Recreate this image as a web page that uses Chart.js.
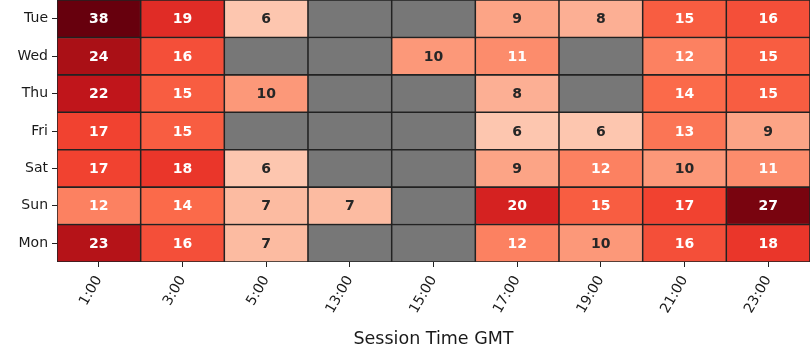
<!DOCTYPE html>
<html>
<head>
<meta charset="utf-8">
<script src="https://cdn.jsdelivr.net/npm/chart.js@4.4.0/dist/chart.umd.min.js"></script>
<style>
  html, body { margin: 0; padding: 0; background: #fff; }
</style>
</head>
<body>
<canvas id="chart" width="810" height="360"></canvas>
<script>
const days = ['Tue', 'Wed', 'Thu', 'Fri', 'Sat', 'Sun', 'Mon'];
const hours = ['1:00', '3:00', '5:00', '13:00', '15:00', '17:00', '19:00', '21:00', '23:00'];

// session counts per weekday, null = no sessions
const tue = [38, 19, 6, null, null, 9, 8, 15, 16];
const wed = [24, 16, null, null, 10, 11, null, 12, 15];
const thu = [22, 15, 10, null, null, 8, null, 14, 15];
const fri = [17, 15, null, null, null, 6, 6, 13, 9];
const sat = [17, 18, 6, null, null, 9, 12, 10, 11];
const sun = [12, 14, 7, 7, null, 20, 15, 17, 27];
const mon = [23, 16, 7, null, null, 12, 10, 16, 18];

const counts = [tue, wed, thu, fri, sat, sun, mon];

const vmin = 0;
const vmax = 28;
const reds = [
    [255, 245, 240], [254, 224, 210], [252, 187, 161], [252, 146, 114],
    [251, 106, 74], [239, 59, 44], [203, 24, 29], [165, 15, 21], [103, 0, 13]
];
const missingColor = '#777777';
const darkText = '#262626';

const cellColor = (v) => {
    if (v === null || v === undefined) return missingColor;
    let t = (v - vmin) / (vmax - vmin);
    t = Math.max(0, Math.min(1, t));
    const pos = t * (reds.length - 1);
    const i = Math.min(Math.floor(pos), reds.length - 2);
    const f = pos - i;
    const c = reds[i].map((a, k) => Math.round(a + (reds[i + 1][k] - a) * f));
    return `rgb(${c[0]}, ${c[1]}, ${c[2]})`;
};

const datasets = counts.map((row, r) => ({
    label: days[r],
    data: hours.map(() => [r - 0.5, r + 0.5]),
    backgroundColor: (ctx) => cellColor(row[ctx.dataIndex]),
    borderColor: '#222222',
    borderWidth: 1.1,
    borderSkipped: false,
    barPercentage: 1,
    categoryPercentage: 1
}));

const cellLabels = {
    id: 'cellLabels',
    afterDatasetsDraw(chart) {
        const ctx = chart.ctx;
        ctx.save();
        ctx.font = 'bold 14px "DejaVu Sans"';
        ctx.textAlign = 'center';
        ctx.textBaseline = 'middle';
        counts.forEach((row, r) => {
            const meta = chart.getDatasetMeta(r);
            meta.data.forEach((bar, i) => {
                const v = row[i];
                if (v === null) return;
                const p = bar.getCenterPoint();
                ctx.fillStyle = v > 10 ? '#ffffff' : darkText;
                ctx.fillText(String(v), p.x, p.y + 1);
            });
        });
        ctx.restore();
    }
};

Chart.defaults.font.family = '"DejaVu Sans"';
Chart.defaults.color = '#1a1a1a';

new Chart(document.getElementById('chart'), {
    type: 'bar',
    data: {
        labels: hours,
        datasets: datasets
    },
    options: {
        responsive: false,
        animation: false,
        devicePixelRatio: 1,
        layout: { padding: 0 },
        plugins: {
            legend: { display: false },
            tooltip: { enabled: false }
        },
        scales: {
            x: {
                type: 'category',
                stacked: true,
                offset: true,
                grid: {
                    offset: false,
                    drawOnChartArea: false,
                    drawTicks: true,
                    tickLength: 5,
                    color: '#222222'
                },
                border: { display: false },
                ticks: {
                    font: { size: 14 },
                    minRotation: 60,
                    maxRotation: 60,
                    autoSkip: false,
                    padding: 6
                },
                title: {
                    display: true,
                    text: 'Session Time GMT',
                    font: { size: 17.5 },
                    padding: { top: 0, bottom: 10 }
                },
                afterFit: (s) => {
                    s.height = 98;
                    s.paddingLeft = 0;
                    s.paddingRight = 0;
                }
            },
            y: {
                type: 'linear',
                min: -0.5,
                max: 6.5,
                reverse: true,
                grid: {
                    drawOnChartArea: false,
                    drawTicks: true,
                    tickLength: 5,
                    color: '#222222'
                },
                border: { display: false },
                afterBuildTicks: (s) => {
                    s.ticks = days.map((d, i) => ({ value: i }));
                },
                ticks: {
                    font: { size: 14 },
                    padding: 4,
                    callback: (v) => days[v]
                },
                afterFit: (s) => {
                    s.width = 57;
                    s.paddingTop = 0;
                    s.paddingBottom = 0;
                }
            }
        }
    },
    plugins: [cellLabels]
});
</script>
</body>
</html>
